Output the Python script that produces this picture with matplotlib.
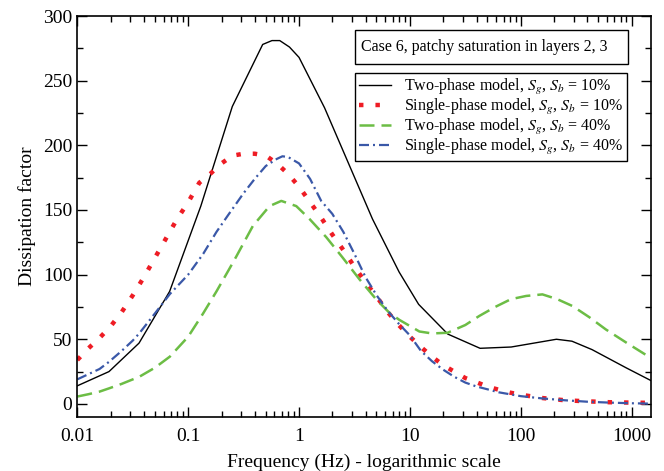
import numpy as np
import matplotlib
matplotlib.use("Agg")
import matplotlib.pyplot as plt
import matplotlib.ticker as ticker
from matplotlib.patches import Rectangle

plt.rcParams['font.family'] = ['Liberation Serif', 'DejaVu Serif']
plt.rcParams['mathtext.fontset'] = 'stix'

# two-phase model, Sg, Sb = 10%
f_two10 = [0.01, 0.0193, 0.036, 0.068, 0.13, 0.25, 0.47, 0.57, 0.67, 0.82, 1.0, 1.7,
           4.6, 8.0, 12, 22, 43, 82, 210, 290, 440, 890, 1500]
d_two10 = [14, 25, 47, 87, 153, 230, 278, 281, 281, 276, 268, 229,
           143, 102, 77, 54, 43, 44, 50, 48.5, 42, 28, 18]

# single-phase model, Sg, Sb = 10%  (log10 of frequency)
lf_one10 = [-2.0, -1.9, -1.8, -1.7, -1.6, -1.5, -1.4, -1.3, -1.2, -1.1, -1.0, -0.9,
            -0.8, -0.7, -0.6, -0.5, -0.4, -0.3, -0.2, -0.1, 0.0, 0.1, 0.2, 0.3,
            0.4, 0.5, 0.6, 0.7, 0.8, 0.9, 1.0, 1.1, 1.2, 1.3, 1.4, 1.5, 1.6, 1.7,
            1.8, 1.9, 2.0, 2.2, 2.4, 2.6, 2.8, 3.0, 3.18]
d_one10 = [34, 43, 51, 60, 71, 84, 98, 113, 128, 143, 156, 171,
           178, 186, 192, 193.5, 193.5, 192, 186, 178, 168, 156, 144, 131,
           119, 106, 94, 83, 71, 61, 52, 44, 36.5, 30, 25, 20, 16.8, 13.4,
           11, 8.8, 7.1, 4.5, 2.8, 2.0, 1.3, 1.0, 0.8]

# two-phase model, Sg, Sb = 40%
lf_two40 = [-2.0, -1.9, -1.8, -1.715, -1.6, -1.441, -1.3, -1.165, -1.0, -0.865, -0.745,
            -0.625, -0.566, -0.416, -0.266, -0.16, -0.025, 0.095, 0.245, 0.395, 0.545,
            0.695, 0.815, 0.905, 1.086, 1.2, 1.34, 1.5, 1.626, 1.77, 1.912, 2.05,
            2.196, 2.33, 2.467, 2.62, 2.768, 2.96, 3.158]
d_two40 = [5.7, 7.5, 9.5, 12, 15.5, 21, 28, 36.6, 52, 70, 87,
           105, 114, 137.7, 153, 157, 153, 143, 129, 113, 96.4,
           81, 70.5, 65, 56, 54.5, 55, 61, 68, 75, 81, 83.5,
           84.7, 81, 75.7, 67, 57.6, 47, 36.4]

# single-phase model, Sg, Sb = 40%
lf_one40 = [-2.0, -1.9, -1.8, -1.715, -1.6, -1.5, -1.441, -1.3, -1.165, -1.0, -0.865,
            -0.745, -0.64, -0.5, -0.4, -0.3, -0.2, -0.15, -0.1, 0.0, 0.1, 0.2, 0.3,
            0.4, 0.5, 0.6, 0.7, 0.8, 0.9, 1.0, 1.1, 1.2, 1.3, 1.4, 1.5, 1.6, 1.7,
            1.8, 2.0, 2.2, 2.4, 2.6, 2.8, 3.0, 3.18]
d_one40 = [19, 23, 27, 32.5, 41, 49, 54.6, 70, 85, 100, 116,
           133, 146, 163, 174, 184, 189.5, 191.5, 191, 186, 174, 157, 147,
           133, 116, 98, 84, 72, 62, 53, 41, 33, 26.5, 21, 16.5, 13.5, 11.3,
           9, 6, 4.2, 2.8, 1.7, 1.0, 0.5, 0.2]

fig = plt.figure(figsize=(6.64, 4.71), dpi=100)
ax = fig.add_axes([0.1165, 0.115, 0.864, 0.851])

ax.plot(f_two10, d_two10, color='black', lw=1.0,
        label=r'Two-phase model, $S_g$, $S_b$ = 10%')
ax.plot(10 ** np.array(lf_one10), d_one10, color='#ee1c24', lw=3.2,
        linestyle=(0, (1, 2.7)), label=r'Single-phase model, $S_g$, $S_b$ = 10%')
ax.plot(10 ** np.array(lf_two40), d_two40, color='#6cbd45', lw=1.8,
        linestyle=(0, (6, 2.8)), label=r'Two-phase model, $S_g$, $S_b$ = 40%')
ax.plot(10 ** np.array(lf_one40), d_one40, color='#3a58a8', lw=1.6,
        linestyle=(0, (4.5, 1.8, 0.9, 1.8)), label=r'Single-phase model, $S_g$, $S_b$ = 40%')

ax.set_xscale('log')
ax.set_xlim(0.01, 1500)
ax.set_ylim(-10, 300)
ax.xaxis.set_major_locator(ticker.FixedLocator([0.01, 0.1, 1, 10, 100, 1000]))
ax.xaxis.set_major_formatter(ticker.FixedFormatter(['0.01', '0.1', '1', '10', '100', '1000']))
ax.xaxis.set_minor_locator(ticker.LogLocator(base=10, subs=np.arange(2, 10)))
ax.xaxis.set_minor_formatter(ticker.NullFormatter())
ax.yaxis.set_major_locator(ticker.MultipleLocator(50))
ax.yaxis.set_minor_locator(ticker.MultipleLocator(25))

ax.tick_params(which='both', direction='in', top=True, right=True, labelsize=14)
ax.tick_params(which='major', length=7, width=1)
ax.tick_params(which='minor', length=4, width=1)
ax.tick_params(axis='x', pad=8)
for s in ax.spines.values():
    s.set_linewidth(1.2)

ax.set_xlabel('Frequency (Hz) - logarithmic scale', fontsize=14, labelpad=6)
ax.set_ylabel('Dissipation factor', fontsize=14, labelpad=5)

# title box in the upper right corner
ax.add_patch(Rectangle((0.4835, 0.880), 0.477, 0.085, transform=ax.transAxes,
                       fc='white', ec='black', lw=1, zorder=5))
ax.text(0.494, 0.9225, 'Case 6, patchy saturation in layers 2, 3', transform=ax.transAxes,
        fontsize=11.5, va='center', ha='left', zorder=6)

leg = ax.legend(loc='upper right', bbox_to_anchor=(0.958, 0.858), fontsize=11.5,
                frameon=True, fancybox=False, edgecolor='black', framealpha=1,
                borderaxespad=0, handlelength=2.0, labelspacing=0.0,
                borderpad=0.25, handletextpad=0.8)
leg.get_frame().set_linewidth(1)

fig.savefig('out.png', dpi=100)
